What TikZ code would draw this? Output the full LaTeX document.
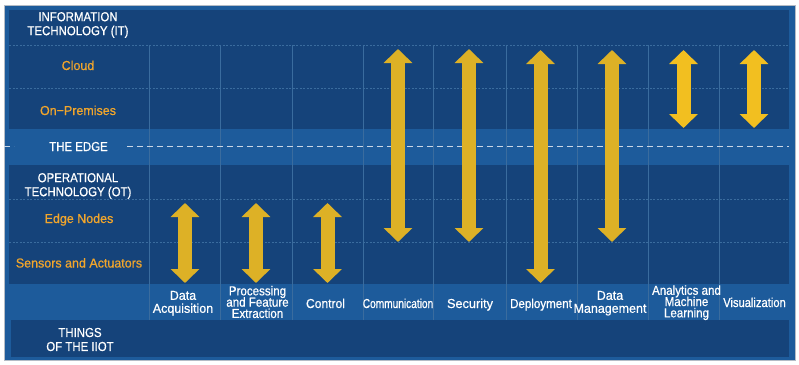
\documentclass[tikz,border=0pt]{standalone}
\usepackage{fontspec}
\setmainfont{Liberation Sans}
\newfontfamily\fN[FakeStretch=0.96,FakeBold=0.6]{Liberation Sans}
\newfontfamily\fH[FakeStretch=0.88,FakeBold=0.6]{Liberation Sans}
\newfontfamily\fB[FakeStretch=0.89,FakeBold=0.6]{Liberation Sans}
\newfontfamily\fC[FakeStretch=0.78,FakeBold=0.6]{Liberation Sans}
\newfontfamily\fV[FakeStretch=0.86,FakeBold=0.6]{Liberation Sans}
\newfontfamily\fT[FakeStretch=0.93,FakeBold=0.6]{Liberation Sans}
\newfontfamily\fS[FakeStretch=0.98,FakeBold=0.6]{Liberation Sans}
\newcommand\tightlines{\lineskiplimit=-20pt\relax}
\usetikzlibrary{arrows.meta}
\definecolor{frameblue}{HTML}{1D5B9B}
\definecolor{darkblue}{HTML}{15437A}
\definecolor{gridline}{HTML}{3A6C9E}
\definecolor{orangetxt}{HTML}{F2A62B}
\definecolor{arrowyel}{HTML}{DDB126}
\definecolor{arrowbright}{HTML}{F2BF20}
\definecolor{framegray}{HTML}{B4BCC6}
\definecolor{edgedash}{HTML}{C9D6E6}
\begin{document}
\begin{tikzpicture}[x=1pt,y=-1pt,
  hdr/.style={text=white,font=\fH\fontsize{13}{14}\selectfont,align=center,inner sep=0pt},
  sub/.style={text=orangetxt,font=\fN\fontsize{13}{14}\selectfont,anchor=base,inner sep=0pt},
  collab/.style={text=white,inner sep=0pt,align=center},
  lab2/.style={collab,font=\fN\fontsize{13}{13}\selectfont\tightlines},
  lab3/.style={collab,font=\fB\fontsize{13}{11.3}\selectfont\tightlines},
  lab1/.style={collab,anchor=base,font=\fN\fontsize{13}{13}\selectfont},
  bigarrow/.style={draw=arrowyel,line width=14pt,{Triangle[width=28pt,length=14pt]}-{Triangle[width=28pt,length=14pt]}},
  brightarrow/.style={bigarrow,draw=arrowbright},
  gridv/.style={draw=gridline,line width=0.6pt},
  gridh/.style={draw=gridline,line width=0.7pt,dash pattern=on 2pt off 1.5pt},
  edgeline/.style={draw=edgedash,line width=0.9pt,dash pattern=on 6pt off 4pt}
]
\useasboundingbox (0,0) rectangle (799,364);
\fill[white] (0,0) rectangle (799,364);
\draw[framegray,fill=frameblue,line width=1pt] (4,5) rectangle (795,360);
\fill[darkblue] (9,10) rectangle (789,129);
\fill[darkblue] (9,165) rectangle (789,284);
\fill[darkblue] (11,320) rectangle (789,357);

% grid
\foreach \y in {45,88,199,242} \draw[gridh] (9,\y) -- (789,\y);
\foreach \x in {149,220,292,363,433,506,577,648,719} \draw[gridv] (\x,45) -- (\x,320);

% the edge dashed line
\coordinate (eL1) at (4,146); \coordinate (eL2) at (14,146);
\coordinate (eR1) at (127,146); \coordinate (eR2) at (789,146);
\draw[edgeline] (eL1) -- (eL2);
\draw[edgeline] (eR1) -- (eR2);

% row labels
\node[hdr] (it) at (78,25) {INFORMATION\\TECHNOLOGY (IT)};
\node[sub] (cloud) at (78,70) {Cloud};
\node[sub] (onprem) at (78,115) {On−Premises};
\node[hdr,anchor=base] (edge) at (78.5,151) {THE EDGE};
\node[hdr] (ot) at (78,186) {OPERATIONAL\\TECHNOLOGY (OT)};
\node[sub] (nodes) at (79,223) {Edge Nodes};
\node[sub] (sensors) at (79,267.5) {Sensors and Actuators};
\node[hdr] (things) at (80,339.5) {THINGS\\OF THE IIOT};

% column labels
\node[lab2] (c1) at (183,303.2) {Data\\Acquisition};
\node[lab3] (c2) at (257.5,302) {Processing\\and Feature\\Extraction};
\node[lab1,font=\fT\fontsize{13}{13}\selectfont] (c3) at (325.5,308) {Control};
\node[lab1,font=\fC\fontsize{13}{13}\selectfont] (c4) at (398,308) {Communication};
\node[lab1,font=\fS\fontsize{13}{13}\selectfont] (c5) at (470,308) {Security};
\node[lab1,font=\fB\fontsize{13}{13}\selectfont] (c6) at (541,308) {Deployment};
\node[lab2] (c7) at (610,303.2) {Data\\Management};
\node[lab3] (c8) at (686.5,302.7) {Analytics and\\Machine\\Learning};
\node[lab1,font=\fV\fontsize{13}{13}\selectfont] (c9) at (754.5,307) {Visualization};

% arrows
\coordinate (a1t) at (185,203);   \coordinate (a1b) at (185,283);
\coordinate (a2t) at (256,203);   \coordinate (a2b) at (256,283);
\coordinate (a3t) at (327.5,203); \coordinate (a3b) at (327.5,283);
\coordinate (a4t) at (398,49);    \coordinate (a4b) at (398,242);
\coordinate (a5t) at (469,49);    \coordinate (a5b) at (469,242);
\coordinate (a6t) at (540.5,50);  \coordinate (a6b) at (540.5,283);
\coordinate (a7t) at (612,50);    \coordinate (a7b) at (612,242);
\coordinate (a8t) at (683.5,50);  \coordinate (a8b) at (683.5,128);
\coordinate (a9t) at (754,50);    \coordinate (a9b) at (754,128);
\draw[bigarrow] (a1t) -- (a1b);
\draw[bigarrow] (a2t) -- (a2b);
\draw[bigarrow] (a3t) -- (a3b);
\draw[bigarrow] (a4t) -- (a4b);
\draw[bigarrow] (a5t) -- (a5b);
\draw[bigarrow] (a6t) -- (a6b);
\draw[bigarrow] (a7t) -- (a7b);
\draw[brightarrow] (a8t) -- (a8b);
\draw[brightarrow] (a9t) -- (a9b);
\end{tikzpicture}
\end{document}
